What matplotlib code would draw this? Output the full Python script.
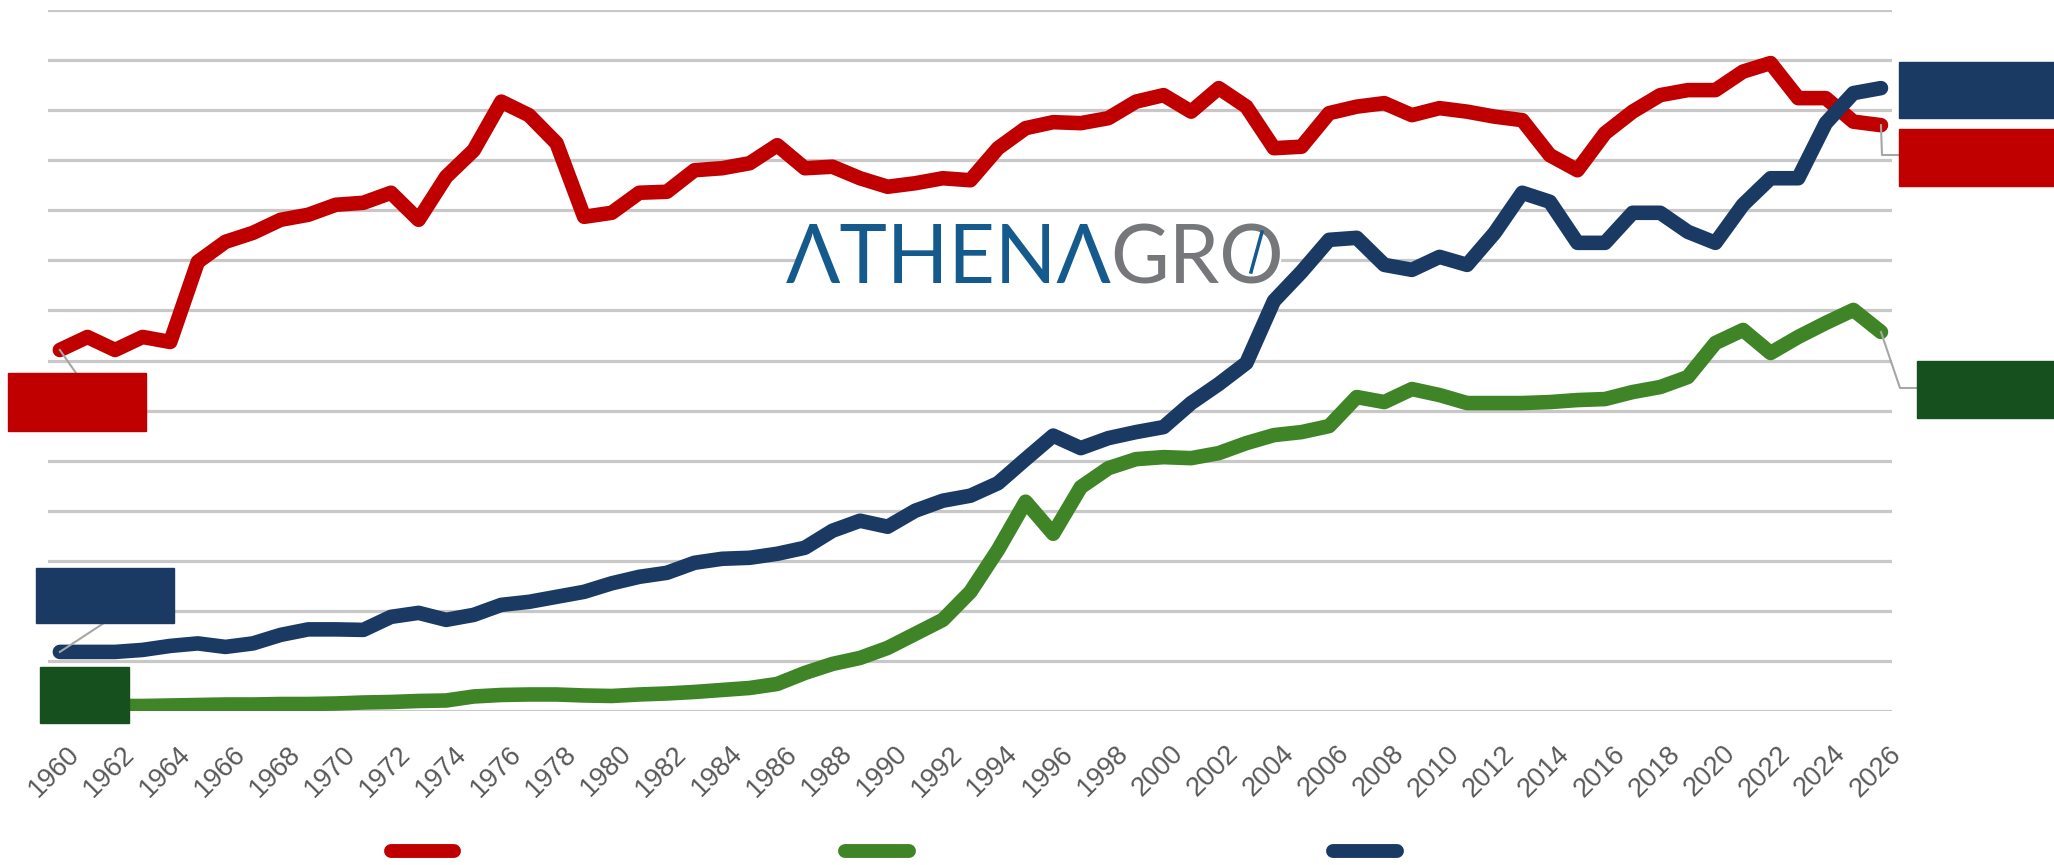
import numpy as np
import matplotlib.pyplot as plt
import matplotlib.transforms as mtransforms
from matplotlib.lines import Line2D
from matplotlib.patches import Rectangle

plt.rcParams['font.family'] = ['Liberation Sans', 'DejaVu Sans']

# DATA (one gridline = 10 units, the chart has no value axis labels)
years = np.arange(1960, 2027)
red = [72.1, 74.7, 72.1, 74.7, 73.7, 89.7, 93.7, 95.5, 98.1, 99.1,
       101.1, 101.5, 103.5, 98.1, 106.7, 112.0, 121.7, 119.0, 113.4, 98.7,
       99.5, 103.5, 103.7, 108.0, 108.4, 109.4, 113.0, 108.4, 108.7, 106.4,
       104.7, 105.4, 106.4, 106.0, 112.4, 116.4, 117.6, 117.4, 118.4, 121.7,
       123.0, 119.7, 124.4, 120.7, 112.4, 112.7, 119.4, 120.7, 121.4, 119.0,
       120.4, 119.7, 118.7, 118.0, 111.0, 108.0, 115.4, 119.7, 123.0, 124.0,
       124.0, 127.7, 129.4, 122.4, 122.4, 117.7, 117.0]
blue = [11.8, 11.8, 11.8, 12.2, 13.0, 13.5, 12.8, 13.5, 15.2, 16.3,
        16.3, 16.2, 18.8, 19.6, 18.2, 19.2, 21.2, 21.8, 22.8, 23.8,
        25.5, 26.8, 27.6, 29.6, 30.4, 30.6, 31.4, 32.6, 36.0, 38.0,
        36.8, 40.0, 42.0, 43.0, 45.5, 50.3, 55.0, 52.5, 54.5, 55.7,
        56.7, 61.5, 65.3, 69.5, 81.9, 87.7, 94.1, 94.5, 89.1, 88.1,
        90.7, 89.1, 95.5, 103.5, 101.7, 93.5, 93.5, 99.5, 99.5, 95.7,
        93.5, 101.1, 106.4, 106.4, 117.4, 123.4, 124.4]
green = [0.8, 0.9, 1.0, 1.0, 1.1, 1.2, 1.3, 1.3, 1.4, 1.4,
         1.5, 1.7, 1.8, 2.0, 2.1, 2.9, 3.2, 3.3, 3.3, 3.1,
         3.0, 3.3, 3.5, 3.8, 4.2, 4.6, 5.4, 7.6, 9.4, 10.6,
         12.6, 15.4, 18.2, 23.8, 32.2, 41.8, 35.4, 44.7, 48.5, 50.3,
         50.7, 50.5, 51.5, 53.5, 55.1, 55.7, 56.9, 62.7, 61.7, 64.3,
         63.1, 61.5, 61.5, 61.5, 61.7, 62.1, 62.3, 63.7, 64.7, 66.7,
         73.5, 76.1, 71.5, 74.7, 77.5, 80.1, 75.7]

RED = '#c00000'
BLUE = '#1b3a63'
GREEN = '#3f8528'
DKGREEN = '#16501f'
GRID = '#c8c8c8'
LEADER = '#a6a6a6'

W, H = 2054, 865
def fx(px):
    return px / W
def fy(py):
    return 1 - py / H

fig = plt.figure(figsize=(W / 100, H / 100), dpi=100)
ax = fig.add_axes([fx(48), fy(711), fx(1892) - fx(48), fy(10) - fy(711)])

for v in range(0, 141, 10):
    ax.axhline(v, color=GRID, lw=2.3, zorder=1)

kw = dict(lw=10.5, solid_joinstyle='round', solid_capstyle='round')
ax.plot(years, green, color=GREEN, zorder=3, **kw)
ax.plot(years, red, color=RED, zorder=4, **kw)
ax.plot(years, blue, color=BLUE, zorder=5, **kw)

ax.set_xlim(1959.57, 2026.4)
ax.set_ylim(0, 140)
ax.set_yticks([])
ax.set_xticks(range(1960, 2027, 2))
for s in ax.spines.values():
    s.set_visible(False)
ax.tick_params(axis='x', length=0, pad=28, labelsize=19.5, labelcolor='#595959')
shift = mtransforms.ScaledTranslation(0.16, 0, fig.dpi_scale_trans)
for lab in ax.get_xticklabels():
    lab.set_rotation(45)
    lab.set_ha('right')
    lab.set_va('center')
    lab.set_rotation_mode('anchor')
    lab.set_transform(lab.get_transform() + shift)

# logo, behind the lines but above the gridlines
ax.add_patch(Rectangle((fx(798), fy(298)), fx(1280) - fx(798), fy(216) - fy(298),
                       transform=fig.transFigure, color='white', zorder=2))
ax.text(fx(1112), fy(283), 'ΛTHENΛ', color='#145a8c', fontsize=58,
        family=['Lato', 'DejaVu Sans'], ha='right', va='baseline',
        transform=fig.transFigure, zorder=2)
ax.text(fx(1110), fy(283), 'GRO', color='#76777a', fontsize=58,
        family=['Lato', 'DejaVu Sans'], ha='left', va='baseline',
        transform=fig.transFigure, zorder=2)
ax.add_line(Line2D([fx(1262), fx(1251)], [fy(232), fy(272)], color='#145a8c', lw=2.5,
                   transform=fig.transFigure, zorder=2))

# label boxes
def box(x0, y0, x1, y1, color):
    fig.add_artist(Rectangle((fx(x0), fy(y1)), fx(x1) - fx(x0), fy(y0) - fy(y1),
                             transform=fig.transFigure, color=color, zorder=6))

def leader(year, val, pts):
    px, py = ax.transData.transform((year, val))
    xs = [px / W] + [fx(p[0]) for p in pts]
    ys = [py / H] + [fy(p[1]) for p in pts]
    fig.add_artist(Line2D(xs, ys, color=LEADER, lw=1.5, zorder=6))

leader(1960, red[0], [(76, 373)])
leader(1960, blue[0], [(104, 623)])
leader(2026, red[-1], [(1882, 155), (1899, 155)])
leader(2026, green[-1], [(1900, 388), (1917, 388)])

box(8, 373, 146, 431, RED)
box(36, 568, 174, 623, BLUE)
box(40, 667, 129, 723, DKGREEN)
box(1899, 62, 2054, 118, BLUE)
box(1899, 129, 2054, 186, RED)
box(1917, 361, 2054, 418, DKGREEN)

# legend handles
for x0, x1, c in [(391, 454, RED), (845, 909, GREEN), (1333, 1397, BLUE)]:
    fig.add_artist(Line2D([fx(x0), fx(x1)], [fy(851), fy(851)], color=c, lw=10,
                          solid_capstyle='round'))

fig.savefig('out.png', dpi=100)
